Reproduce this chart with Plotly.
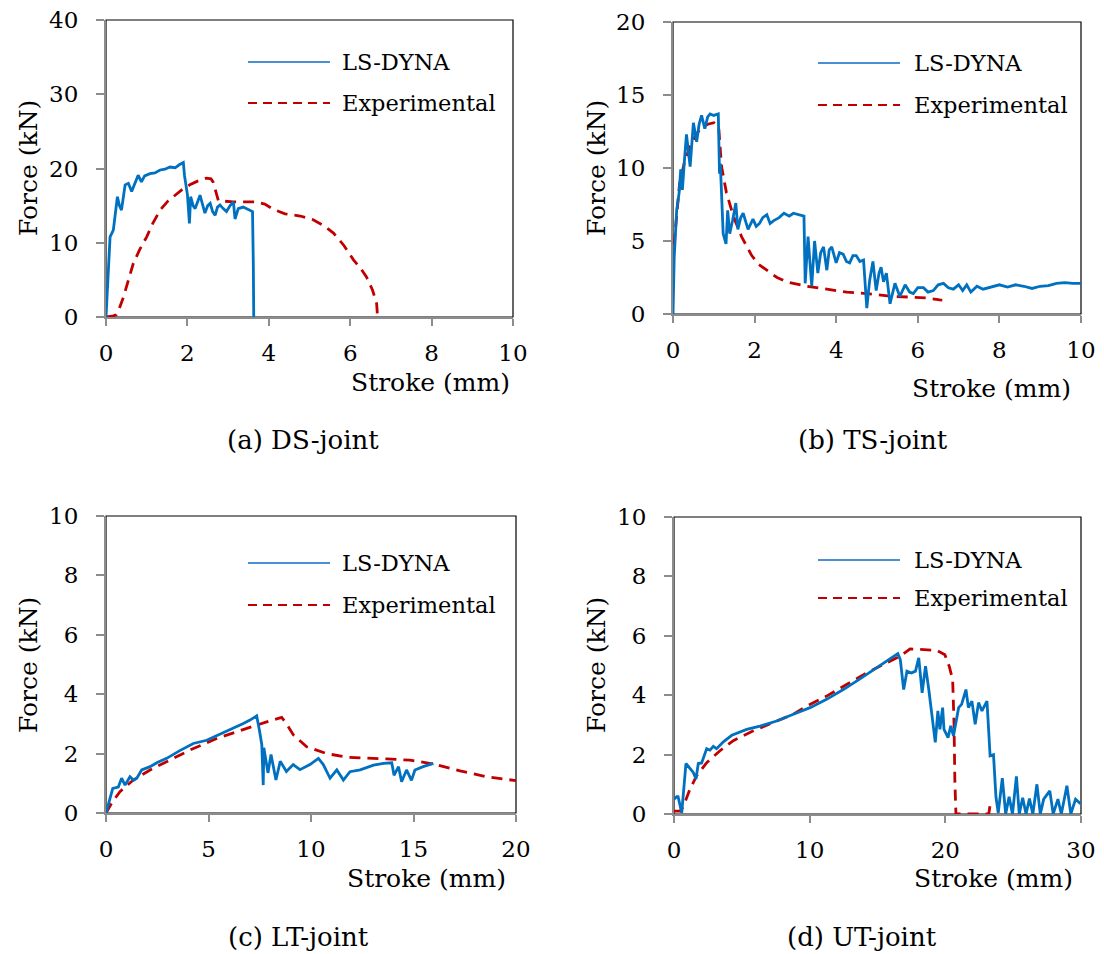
import plotly.graph_objects as go

# The page body adds an 8px margin, so the figure is sized to end exactly at the window edge.
PAGE_OFF = 8
W, H = 1104 - PAGE_OFF, 954 - PAGE_OFF

# ---------------- data ----------------
# (a) DS-joint
ds_fem_x = [0, 0.05, 0.1, 0.18, 0.24, 0.28, 0.33, 0.38, 0.47, 0.55, 0.63, 0.72, 0.79, 0.87, 0.95, 1.08, 1.2, 1.33,
            1.45, 1.57, 1.7, 1.8, 1.9, 1.93, 1.95, 2.0, 2.05, 2.08, 2.14, 2.19, 2.25, 2.31, 2.37, 2.43, 2.5, 2.56, 2.62,
            2.68, 2.74, 2.8, 2.88, 2.96, 3.05, 3.13, 3.17, 3.25, 3.37, 3.5, 3.6, 3.62, 3.63]
ds_fem_y = [0, 6.0, 10.8, 11.7, 14.5, 16.2, 15.0, 14.4, 17.8, 18.0, 16.9, 18.2, 19.1, 18.2, 19.0, 19.3, 19.4, 19.8,
            19.9, 20.2, 20.1, 20.5, 20.8, 19.0, 18.4, 16.5, 12.6, 16.2, 15.0, 14.6, 15.5, 16.4, 15.2, 14.0, 15.0, 15.3,
            14.2, 13.7, 14.8, 15.1, 14.6, 14.2, 15.0, 15.5, 13.2, 14.6, 14.8, 14.4, 14.2, 7.0, 0]
ds_exp_x = [0, 0.15, 0.25, 0.33, 0.43, 0.55, 0.67, 0.83, 1.0, 1.15, 1.33, 1.52, 1.73, 1.9, 2.06, 2.25, 2.47, 2.58,
            2.63, 2.7, 2.76, 2.9, 3.13, 3.4, 3.7, 3.9, 4.11, 4.4, 4.77, 5.09, 5.35, 5.59, 5.85, 6.08, 6.25, 6.4,
            6.55, 6.65, 6.67]
ds_exp_y = [0, 0.1, 0.3, 1.2, 2.7, 5.0, 7.2, 9.1, 10.8, 12.6, 14.4, 15.6, 16.6, 17.3, 17.8, 18.3, 18.7, 18.6,
            18.2, 17.0, 15.7, 15.6, 15.5, 15.5, 15.5, 15.2, 14.5, 13.9, 13.6, 13.1, 12.3, 11.3, 9.6, 7.7, 6.6, 5.4,
            3.6, 1.8, 0.2]

# (b) TS-joint
ts_fem_x = [0, 0.03, 0.09, 0.15, 0.19, 0.23, 0.28, 0.33, 0.42, 0.5, 0.58, 0.64, 0.7, 0.78, 0.85, 0.91, 1.0, 1.11,
            1.14, 1.16, 1.23, 1.3, 1.34, 1.39, 1.46, 1.54, 1.59, 1.66, 1.72, 1.84, 1.96, 2.04, 2.12, 2.2, 2.3, 2.38,
            2.47, 2.6, 2.72, 2.85, 2.95, 3.1, 3.21, 3.24, 3.31, 3.4, 3.47, 3.55, 3.62, 3.69, 3.77, 3.83, 3.89, 4.0,
            4.08, 4.17, 4.25, 4.33, 4.41, 4.49, 4.58, 4.67, 4.75, 4.82, 4.9, 4.98, 5.05, 5.1, 5.16, 5.23, 5.32,
            5.44, 5.56, 5.69, 5.8, 5.89, 6.0, 6.14, 6.25, 6.38, 6.5, 6.63, 6.75, 6.87, 7.0, 7.1, 7.2, 7.3, 7.45,
            7.6, 7.8, 8.0, 8.2, 8.4, 8.6, 8.8, 9.0, 9.2, 9.4, 9.6, 9.8, 10.0]
ts_fem_y = [0, 3.9, 7.1, 8.3, 9.9, 8.5, 10.5, 12.3, 10.1, 13.1, 11.8, 13.0, 13.6, 12.7, 13.5, 13.7, 13.6, 13.7,
            9.6, 10.3, 5.5, 4.8, 7.1, 5.5, 6.4, 7.6, 5.8, 6.6, 6.9, 5.8, 6.5, 6.0, 6.2, 6.6, 6.8, 6.2,
            6.4, 6.6, 6.9, 6.7, 6.9, 6.8, 6.7, 2.1, 5.3, 1.9, 5.0, 2.8, 4.2, 4.6, 3.0, 4.4, 4.6, 3.5,
            4.2, 4.1, 3.6, 3.5, 4.0, 4.0, 3.6, 3.7, 0.4, 2.3, 3.6, 1.6, 2.8, 3.2, 2.2, 2.8, 0.7,
            2.1, 1.2, 2.0, 1.5, 1.4, 1.8, 1.8, 1.5, 1.6, 2.0, 2.1, 1.8, 1.7, 2.0, 1.6, 2.0, 1.5, 1.9,
            1.7, 1.85, 2.0, 1.85, 2.0, 1.9, 1.75, 1.9, 1.95, 2.1, 2.15, 2.1, 2.1]
ts_exp_x = [0, 0.05, 0.16, 0.28, 0.42, 0.55, 0.67, 0.85, 1.0, 1.12, 1.19, 1.31, 1.48, 1.68, 1.93, 2.1, 2.3, 2.55,
            2.79, 3.28, 3.77, 4.26, 4.75, 5.4, 5.89, 6.2, 6.54, 6.6]
ts_exp_y = [3.5, 5.5, 8.9, 10.4, 11.5, 12.2, 12.7, 13.0, 13.1, 12.8, 10.1, 8.3, 6.7, 5.3, 4.0, 3.4, 3.0, 2.5,
            2.2, 1.9, 1.7, 1.5, 1.4, 1.2, 1.15, 1.1, 0.96, 0.95]

# (c) LT-joint
lt_fem_x = [0, 0.2, 0.33, 0.6, 0.76, 0.93, 1.17, 1.35, 1.5, 1.74, 2.15, 2.5, 2.96, 3.6, 4.26, 4.91, 5.4, 5.89, 6.3,
            6.7, 7.0, 7.35, 7.48, 7.6, 7.67, 7.7, 7.9, 8.05, 8.29, 8.5, 8.8, 9.13, 9.46, 9.95, 10.36, 10.6, 10.93,
            11.26, 11.58, 11.9, 12.4, 13.05, 13.54, 13.94, 14.05, 14.27, 14.42, 14.66, 14.9, 15.07, 15.47, 15.97]
lt_fem_y = [0, 0.55, 0.83, 0.87, 1.17, 0.94, 1.22, 1.1, 1.17, 1.45, 1.56, 1.7, 1.84, 2.1, 2.34, 2.45, 2.6, 2.74, 2.87,
            3.01, 3.12, 3.27, 2.8, 2.3, 0.94, 2.2, 1.35, 1.97, 1.11, 1.74, 1.4, 1.63, 1.46, 1.63, 1.84, 1.63, 1.17,
            1.45, 1.11, 1.39, 1.45, 1.61, 1.67, 1.69, 1.27, 1.56, 1.05, 1.45, 1.1, 1.45, 1.56, 1.67]
lt_exp_x = [0, 0.28, 0.68, 1.33, 2.15, 2.96, 4.1, 5.4, 6.86, 7.84, 8.57, 8.81, 9.14, 9.79, 10.76, 11.74, 13.69, 14.83,
            15.97, 17.27, 18.57, 20.0]
lt_exp_y = [0, 0.34, 0.72, 1.11, 1.45, 1.73, 2.12, 2.51, 2.85, 3.07, 3.22, 3.0, 2.63, 2.23, 2.0, 1.88, 1.82, 1.78,
            1.65, 1.42, 1.22, 1.09]

# (d) UT-joint
ut_fem_x = [0, 0.2, 0.3, 0.57, 0.88, 1.18, 1.42, 1.62, 1.79, 2.04, 2.41, 2.65, 2.9, 3.14, 3.64, 4.26, 5.36, 6.34,
            7.57, 8.8, 10.03, 11.25, 12.48, 13.71, 14.94, 15.67, 16.5, 16.68, 16.93, 17.17, 17.5, 17.8, 18.04, 18.29,
            18.54, 18.78, 19.1, 19.26, 19.45, 19.6, 19.8, 19.9, 20.2, 20.4, 20.6, 20.98, 21.2, 21.52, 21.7, 21.96,
            22.2, 22.45, 22.7, 23.07, 23.3, 23.55, 23.73, 23.9, 24.2, 24.45, 24.7, 24.95, 25.24, 25.45, 25.7, 25.95,
            26.2, 26.45, 26.75, 27.0, 27.25, 27.7, 27.95, 28.3, 28.55, 28.96, 29.25, 29.6, 29.96]
ut_fem_y = [0.5, 0.58, 0.58, 0.04, 1.7, 1.55, 1.4, 1.18, 1.7, 1.72, 2.2, 2.15, 2.28, 2.2, 2.43, 2.65, 2.85, 2.96,
            3.13, 3.36, 3.58, 3.86, 4.19, 4.55, 4.92, 5.15, 5.4, 5.2, 4.19, 4.81, 4.75, 4.81, 5.26, 4.08,
            4.98, 4.19, 3.08, 2.41, 3.47, 2.85, 3.58, 2.85, 2.57, 2.97, 2.63, 3.58, 3.69, 4.19, 3.58, 3.8,
            3.02, 3.75, 3.47, 3.8, 1.96, 2.0, 0.58, 0.04, 1.21, 0.0, 0.58, 0.0, 1.27, 0.0, 0.55, 0.0,
            0.52, 0.0, 1.0, 0.0, 0.5, 0.78, 0.0, 0.5, 0.0, 0.95, 0.0, 0.5, 0.35]
ut_exp_x = [0, 0.45, 0.69, 1.18, 1.67, 2.41, 3.39, 4.37, 5.85, 7.32, 8.79, 9.77, 11.25, 12.72, 14.2, 15.67, 16.66,
            17.4, 18.38, 19.36, 19.97, 20.29, 20.54, 20.64, 20.7, 20.78, 23.2, 23.35]
ut_exp_y = [0.1, 0.1, 0.25, 0.84, 1.29, 1.73, 2.13, 2.47, 2.8, 3.08, 3.36, 3.63, 3.97, 4.36, 4.75, 5.09, 5.31,
            5.56, 5.53, 5.51, 5.36, 4.97, 4.52, 3.06, 1.16, 0.0, 0.0, 0.45]

panels = [
    dict(fem_x=ds_fem_x, fem_y=ds_fem_y, exp_x=ds_exp_x, exp_y=ds_exp_y,
         xr=[0, 10], xd=2, yr=[0, 40], yd=10, caption="(a) DS-joint"),
    dict(fem_x=ts_fem_x, fem_y=ts_fem_y, exp_x=ts_exp_x, exp_y=ts_exp_y,
         xr=[0, 10], xd=2, yr=[0, 20], yd=5, caption="(b) TS-joint"),
    dict(fem_x=lt_fem_x, fem_y=lt_fem_y, exp_x=lt_exp_x, exp_y=lt_exp_y,
         xr=[0, 20], xd=5, yr=[0, 10], yd=2, caption="(c) LT-joint"),
    dict(fem_x=ut_fem_x, fem_y=ut_fem_y, exp_x=ut_exp_x, exp_y=ut_exp_y,
         xr=[0, 30], xd=10, yr=[0, 10], yd=2, caption="(d) UT-joint"),
]
series_names = ["LS-DYNA", "Experimental"]

# ---------------- layout geometry (screen pixels) ----------------
boxes = [  # left, right, top, bottom
    (106, 513, 20, 317),
    (673, 1081, 22, 314),
    (106, 516, 516, 813),
    (674, 1081, 517, 814),
]
legend_pos = [  # line x0, x1, y blue, y red, text x
    (248, 330, 62, 103, 340),
    (818, 900, 63, 105, 912),
    (248, 330, 563, 605, 340),
    (818, 900, 560, 598, 912),
]
xtitle_pos = [(512, 382), (1073, 388), (508, 878), (1075, 878)]
ytitle_pos = [(28, 168), (596, 168), (28, 665), (596, 665)]
caption_pos = [(303, 440), (873, 440), (298, 937), (862, 937)]

def px(x):
    return (x - PAGE_OFF) / W

def py(y):
    return 1 - (y - PAGE_OFF) / H

FONT = "DejaVu Serif"
BLUE = "#0070C0"
RED = "#C00000"
AXIS_GRAY = "#8C8C8C"

fig = go.Figure()
layout = dict(width=W, height=H, margin=dict(l=0, r=0, t=0, b=0, pad=0, autoexpand=False),
              paper_bgcolor="white", plot_bgcolor="white", showlegend=False,
              font=dict(family=FONT, size=22, color="black"))
shapes = []
annotations = []

for i, p in enumerate(panels):
    n = "" if i == 0 else str(i + 1)
    xa, ya = "x" + n, "y" + n
    l, r, t, b = boxes[i]
    fig.add_trace(go.Scatter(x=p["exp_x"], y=p["exp_y"], mode="lines", name=series_names[1],
                             line=dict(color=RED, width=2.8, dash="11px,7px"),
                             xaxis=xa, yaxis=ya, cliponaxis=False))
    fig.add_trace(go.Scatter(x=p["fem_x"], y=p["fem_y"], mode="lines", name=series_names[0],
                             line=dict(color=BLUE, width=2.8),
                             xaxis=xa, yaxis=ya, cliponaxis=False))
    axis_common = dict(showline=True, linecolor=AXIS_GRAY, linewidth=2, ticks="outside",
                       tickcolor=AXIS_GRAY, tickwidth=1.5, showgrid=False, zeroline=False,
                       automargin=False, ticklabeloverflow="allow",
                       tickfont=dict(family=FONT, size=23, color="black"))
    layout["xaxis" + n] = dict(axis_common, domain=[px(l), px(r)], range=p["xr"], dtick=p["xd"], tick0=0,
                               anchor=ya, ticklen=7, ticklabelstandoff=7)
    layout["yaxis" + n] = dict(axis_common, domain=[py(b), py(t)], range=p["yr"], dtick=p["yd"], tick0=0,
                               anchor=xa, ticklen=8, ticklabelstandoff=13)
    # black frame (top / right)
    shapes.append(dict(type="rect", xref=xa + " domain", yref=ya + " domain", x0=0, x1=1, y0=0, y1=1,
                       line=dict(color="black", width=1.2), layer="below"))
    # legend
    lx0, lx1, yb, yr_, tx = legend_pos[i]
    shapes.append(dict(type="line", xref="paper", yref="paper", x0=px(lx0), x1=px(lx1), y0=py(yb), y1=py(yb),
                       line=dict(color="#4A8FD2", width=2)))
    shapes.append(dict(type="line", xref="paper", yref="paper", x0=px(lx0), x1=px(lx1), y0=py(yr_), y1=py(yr_),
                       line=dict(color=RED, width=2, dash="9px,6px")))
    annotations.append(dict(text=series_names[0], x=px(tx), y=py(yb), xref="paper", yref="paper",
                            xanchor="left", yanchor="middle", showarrow=False, font=dict(size=22.5)))
    annotations.append(dict(text=series_names[1], x=px(tx), y=py(yr_), xref="paper", yref="paper",
                            xanchor="left", yanchor="middle", showarrow=False, font=dict(size=22.5)))
    # axis titles
    xt = xtitle_pos[i]
    annotations.append(dict(text="Stroke (mm)", x=px(xt[0]), y=py(xt[1]), xref="paper", yref="paper",
                            xanchor="right", yanchor="middle", showarrow=False, font=dict(size=25)))
    yt = ytitle_pos[i]
    annotations.append(dict(text="Force (kN)", x=px(yt[0]), y=py(yt[1]), xref="paper", yref="paper",
                            xanchor="center", yanchor="middle", textangle=-90, showarrow=False,
                            font=dict(size=25)))
    cp = caption_pos[i]
    annotations.append(dict(text=p["caption"], x=px(cp[0]), y=py(cp[1]), xref="paper", yref="paper",
                            xanchor="center", yanchor="middle", showarrow=False, font=dict(size=26)))

layout["shapes"] = shapes
layout["annotations"] = annotations
fig.update_layout(**layout)
fig.write_html("out.html")
